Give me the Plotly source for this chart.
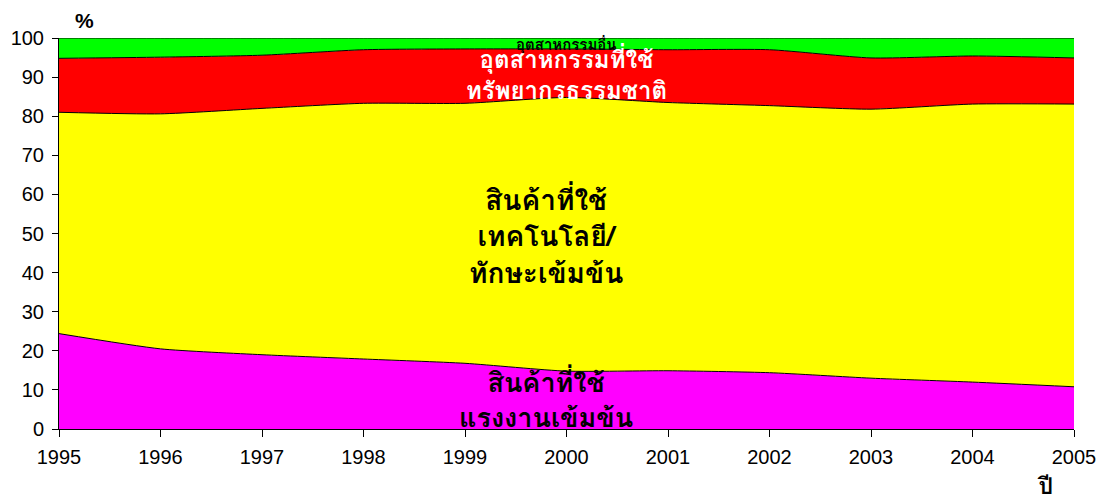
import plotly.graph_objects as go

years = [1995, 1996, 1997, 1998, 1999, 2000, 2001, 2002, 2003, 2004, 2005]
labor_intensive = [24.4, 20.5, 19.0, 17.9, 16.8, 14.8, 14.9, 14.4, 13.0, 12.0, 10.8]
tech_skill_intensive = [56.6, 60.1, 63.0, 65.4, 66.5, 70.0, 68.6, 68.3, 68.8, 71.1, 72.3]
resource_based = [13.8, 14.5, 13.6, 13.7, 13.9, 12.4, 13.5, 14.3, 13.1, 12.3, 11.8]
other_industry = [5.2, 4.9, 4.4, 3.0, 2.8, 2.8, 3.0, 3.0, 5.1, 4.6, 5.1]

series_names = ["สินค้าที่ใช้แรงงานเข้มข้น", "สินค้าที่ใช้เทคโนโลยี/ทักษะเข้มข้น",
                "อุตสาหกรรมที่ใช้ทรัพยากรธรรมชาติ", "อุตสาหกรรมอื่น"]
series_vals = [labor_intensive, tech_skill_intensive, resource_based, other_industry]
colors = ["#FF00FF", "#FFFF00", "#FF0000", "#00FF00"]

thai_font = "Tahoma, Garuda, Loma, Noto Sans Thai Looped, Noto Sans Thai, sans-serif"

fig = go.Figure()
for name, vals, c in zip(series_names, series_vals, colors):
    fig.add_trace(go.Scatter(
        x=years, y=vals, name=name, mode="lines", stackgroup="one",
        line=dict(color="black", width=1, shape="spline", smoothing=0.6),
        fillcolor=c, showlegend=False, hoverinfo="x+y+name"))

ann = [
    dict(x=2000, y=98.3, text="<b>อุตสาหกรรมอื่น</b>", font=dict(size=15, color="black", family=thai_font)),
    dict(x=2000, y=90.6, text="<b>อุตสาหกรรมที่ใช้<br>ทรัพยากรธรรมชาติ</b>", font=dict(size=24, color="white", family=thai_font)),
    dict(x=1999.8, y=49.3, text="<b>สินค้าที่ใช้<br>เทคโนโลยี/<br>ทักษะเข้มข้น</b>", font=dict(size=28, color="black", family=thai_font)),
    dict(x=1999.8, y=7.3, text="<b>สินค้าที่ใช้<br>แรงงานเข้มข้น</b>", font=dict(size=27, color="black", family=thai_font)),
]
for a in ann:
    fig.add_annotation(xref="x", yref="y", showarrow=False, **a)

fig.add_annotation(xref="paper", yref="paper", x=0.0256, y=1.046, xanchor="center", yanchor="middle",
                   text="<b>%</b>", showarrow=False, font=dict(size=21, color="black", family="Arial"))
fig.add_annotation(xref="paper", yref="paper", x=0.971, y=-0.146, xanchor="center", yanchor="middle",
                   text="<b>ปี</b>", showarrow=False, font=dict(size=23, color="black", family=thai_font))

fig.update_layout(
    width=1099, height=490,
    margin=dict(l=51, r=33, t=30, b=69, autoexpand=False),
    paper_bgcolor="white", plot_bgcolor="white",
    font=dict(family="Arial, Liberation Sans, sans-serif", size=20, color="black"),
    xaxis=dict(range=[1995, 2005], tickmode="array", tickvals=years,
               ticks="outside", ticklen=7, tickcolor="black", showline=True,
               linecolor="black", linewidth=1, showgrid=False, zeroline=False,
               automargin=False, tickfont=dict(size=20), ticklabelstandoff=3),
    yaxis=dict(range=[0, 100], tickmode="linear", dtick=10, tick0=0,
               ticks="outside", ticklen=6, tickcolor="black", showline=True,
               linecolor="black", linewidth=1, showgrid=False, zeroline=False,
               automargin=False, tickfont=dict(size=20), ticklabelstandoff=4),
)

fig.write_html("out.html")
